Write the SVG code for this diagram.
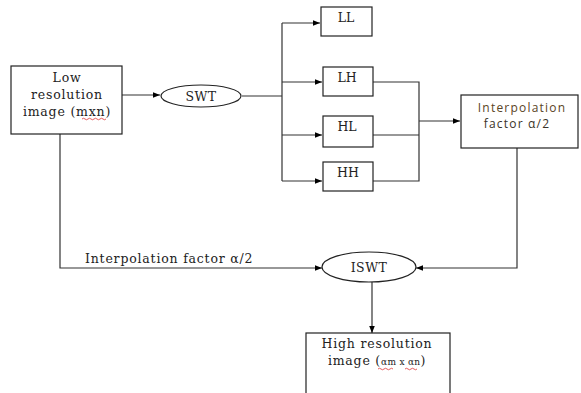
<svg xmlns="http://www.w3.org/2000/svg" width="581" height="393" viewBox="0 0 581 393">
<defs>
<marker id="ah" viewBox="0 0 10 10" refX="10" refY="5" markerWidth="7" markerHeight="7" markerUnits="userSpaceOnUse" orient="auto">
<path d="M0,1 L10,5 L0,9 Z" fill="#000"/>
</marker>
<style>
.box{fill:#fff;stroke:#222;stroke-width:1.2}
.ln{fill:none;stroke:#333;stroke-width:1.2}
.t{font-family:'DejaVu Serif','Liberation Serif',serif;font-size:12.5px;letter-spacing:0.8px;fill:#222;text-anchor:middle}
.s{font-family:'Open Sans','Liberation Sans',sans-serif;font-size:12px;letter-spacing:1.2px;fill:#3a3328;text-anchor:middle}
.sq{fill:none;stroke:#d33;stroke-width:0.8}
</style>
</defs>
<rect width="581" height="393" fill="#fff"/>
<g id="connectors">
<path class="ln" d="M122,95 H160" marker-end="url(#ah)"/>
<path class="ln" d="M242,96 H282"/>
<path class="ln" d="M282,23 V181"/>
<path class="ln" d="M282,23 H320" marker-end="url(#ah)"/>
<path class="ln" d="M282,82 H322" marker-end="url(#ah)"/>
<path class="ln" d="M282,135 H322" marker-end="url(#ah)"/>
<path class="ln" d="M282,181 H322" marker-end="url(#ah)"/>
<path class="ln" d="M373,82 H419 V181 H373"/>
<path class="ln" d="M373,135 H419"/>
<path class="ln" d="M419,121 H460" marker-end="url(#ah)"/>
<path class="ln" d="M517,148 V268 H416" marker-end="url(#ah)"/>
<path class="ln" d="M60,134 V268 H322" marker-end="url(#ah)"/>
<path class="ln" d="M372,282 V333" marker-end="url(#ah)"/>
<text class="t" x="85" y="263" style="text-anchor:start">Interpolation factor α/2</text>
</g>
<g id="lowres">
<rect class="box" x="11" y="66" width="111" height="68"/>
<text class="t" x="67" y="82">Low</text>
<text class="t" x="67" y="99">resolution</text>
<text class="t" x="67" y="116">image (mxn)</text>
<path class="sq" d="M82,119 q1.5,-1.5 3,0 t3,0 t3,0 t3,0 t3,0 t3,0 t3,0 t3,0"/>
</g>
<g id="swt">
<ellipse class="box" cx="201" cy="96" rx="40" ry="11"/>
<text class="t" x="201" y="101" style="letter-spacing:0.5px">SWT</text>
</g>
<g id="ll">
<rect class="box" x="321" y="7" width="51" height="29"/>
<text class="t" x="346" y="22" style="letter-spacing:0px">LL</text>
</g>
<g id="lh">
<rect class="box" x="323" y="67" width="50" height="29"/>
<text class="t" x="347" y="82" style="letter-spacing:0px">LH</text>
</g>
<g id="hl">
<rect class="box" x="323" y="116" width="50" height="31"/>
<text class="t" x="347" y="131" style="letter-spacing:0px">HL</text>
</g>
<g id="hh">
<rect class="box" x="323" y="162" width="50" height="29"/>
<text class="t" x="348" y="177" style="letter-spacing:0px">HH</text>
</g>
<g id="interp">
<rect class="box" x="461" y="95" width="117" height="53"/>
<text class="s" x="522" y="112" style="fill:#5a4424">Interpolation</text>
<text class="s" x="517" y="128">factor α/2</text>
</g>
<g id="iswt">
<ellipse class="box" cx="369" cy="267" rx="47" ry="15"/>
<text class="t" x="369" y="272" style="letter-spacing:0.5px">ISWT</text>
</g>
<g id="highres">
<rect class="box" x="306" y="333" width="144" height="62"/>
<text class="t" x="377" y="348">High resolution</text>
<text class="t" x="377" y="365">image (<tspan style="font-size:9px;letter-spacing:0.3px">αm x αn</tspan>)</text>
<path class="sq" d="M378,369 q1.5,-1.5 3,0 t3,0 t3,0 t3,0 t3,0"/>
<path class="sq" d="M405,369 q1.5,-1.5 3,0 t3,0 t3,0 t3,0"/>
</g>
</svg>
